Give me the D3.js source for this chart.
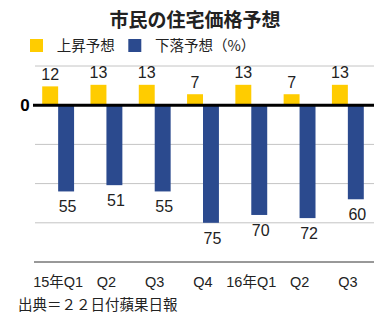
<!DOCTYPE html>
<html><head><meta charset="utf-8">
<script src="https://cdn.jsdelivr.net/npm/d3@7"></script>
<style>body{margin:0;background:#fff}svg{display:block}</style>
</head><body><div id="c"></div>
<script>
const categories = ["15年Q1","Q2","Q3","Q4","16年Q1","Q2","Q3"];
const riseValues = [12,13,13,7,13,7,13];
const fallValues = [55,51,55,75,70,72,60];
const seriesNames = ["上昇予想","下落予想（%）"];
const gridTicks = [25,0,-25,-50,-75,-100];
const colors = ["#FFCC00","#2B4A8E"];

const CJK="'Noto Sans CJK JP',sans-serif";
const LAT="'Liberation Sans','Noto Sans CJK JP',sans-serif";
const W=389,H=331;
const svg=d3.select("#c").append("svg").attr("width",W).attr("height",H);
const x=d3.scaleBand().domain(d3.range(categories.length)).range([34,372]).paddingInner(0.34).paddingOuter(0.17);
const xs=d3.scaleBand().domain([0,1]).range([0,x.bandwidth()]);
const y=d3.scaleLinear().domain([-100,25]).range([262,66]);

svg.append("text").attr("x",195).attr("y",27).attr("text-anchor","middle").style("font-family",CJK).attr("font-size",19).attr("font-weight","bold").attr("fill","#222").text("市民の住宅価格予想");

const lg=svg.append("g");
[[30,56.7],[128.3,155]].forEach((p,i)=>{
  lg.append("rect").attr("x",p[0]).attr("y",39).attr("width",13).attr("height",13).attr("fill",colors[i]);
  lg.append("text").attr("x",p[1]).attr("y",50.5).style("font-family",CJK).attr("font-size",14.5).attr("fill","#222").text(seriesNames[i]);
});

svg.append("g").selectAll("line").data(gridTicks.filter(d=>d!==0&&d!==-100)).join("line")
  .attr("x1",35).attr("x2",374).attr("y1",d=>y(d)).attr("y2",d=>y(d)).attr("stroke","#c4c4c4").attr("stroke-width",1);
svg.append("line").attr("x1",34).attr("x2",374).attr("y1",y(-100)).attr("y2",y(-100)).attr("stroke","#333").attr("stroke-width",1);

svg.append("g").selectAll("rect").data(riseValues).join("rect")
  .attr("x",(d,i)=>x(i)+xs(0)).attr("width",xs.bandwidth()).attr("y",d=>y(d)).attr("height",d=>y(0)-y(d)).attr("fill",colors[0]);
svg.append("g").selectAll("rect").data(fallValues).join("rect")
  .attr("x",(d,i)=>x(i)+xs(1)).attr("width",xs.bandwidth()).attr("y",y(0)).attr("height",d=>y(-d)-y(0)).attr("fill",colors[1]);

svg.append("line").attr("x1",33).attr("x2",374).attr("y1",y(0)).attr("y2",y(0)).attr("stroke","#000").attr("stroke-width",3);
svg.append("text").attr("x",25).attr("y",y(0)+6).attr("text-anchor","middle").style("font-family",LAT).attr("font-size",17).attr("font-weight","bold").attr("fill","#000").text("0");

svg.append("g").selectAll("text").data(riseValues).join("text")
  .attr("x",(d,i)=>x(i)+xs(0)+xs.bandwidth()/2).attr("y",d=>y(d)-6.5).attr("text-anchor","middle")
  .style("font-family",LAT).attr("font-size",16).attr("fill","#222").text(d=>d);
svg.append("g").selectAll("text").data(fallValues).join("text")
  .attr("x",(d,i)=>x(i)+xs(1)+xs.bandwidth()/2+1.5).attr("y",d=>y(-d)+21).attr("text-anchor","middle")
  .style("font-family",LAT).attr("font-size",16).attr("fill","#222").text(d=>d);

svg.append("g").selectAll("text").data(categories).join("text")
  .attr("x",(d,i)=>x(i)+x.bandwidth()/2).attr("y",287).attr("text-anchor","middle")
  .style("font-family",LAT).attr("font-size",14.5).attr("fill","#222").text(d=>d);

svg.append("text").attr("x",18).attr("y",310).style("font-family",CJK).attr("font-size",14.5).attr("fill","#222").text("出典＝２２日付蘋果日報");
</script></body></html>
